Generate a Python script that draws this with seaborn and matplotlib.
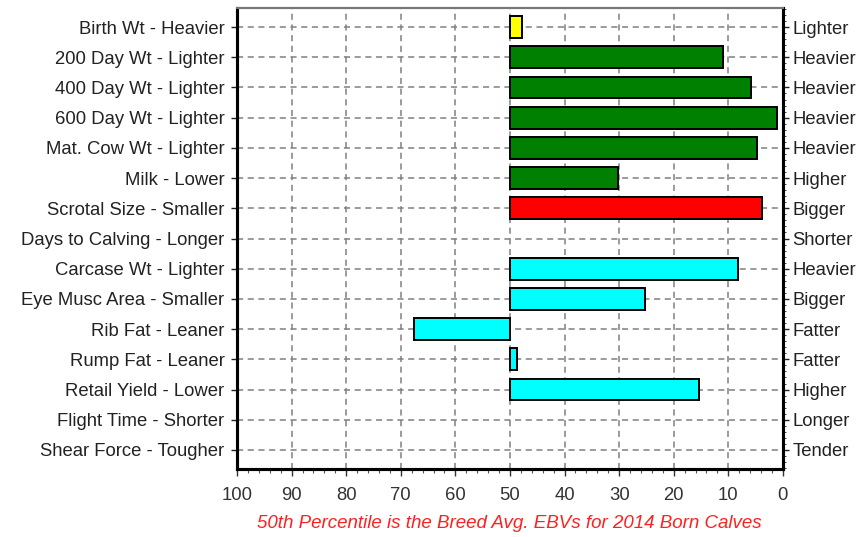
import numpy as np
import pandas as pd
import matplotlib
matplotlib.use("Agg")
import matplotlib.pyplot as plt
import seaborn as sns
from matplotlib.ticker import FixedLocator, MultipleLocator

traits = ["Birth Wt - Heavier", "200 Day Wt - Lighter", "400 Day Wt - Lighter",
          "600 Day Wt - Lighter", "Mat. Cow Wt - Lighter", "Milk - Lower",
          "Scrotal Size - Smaller", "Days to Calving - Longer", "Carcase Wt - Lighter",
          "Eye Musc Area - Smaller", "Rib Fat - Leaner", "Rump Fat - Leaner",
          "Retail Yield - Lower", "Flight Time - Shorter", "Shear Force - Tougher"]
right_labels = ["Lighter", "Heavier", "Heavier", "Heavier", "Heavier", "Higher",
                "Bigger", "Shorter", "Heavier", "Bigger", "Fatter", "Fatter",
                "Higher", "Longer", "Tender"]
# percentile band reached by each trait (50 = breed average, nan = no bar)
percentile = [47.8, 11.0, 5.8, 1.0, 4.7, 30.2, 3.8, np.nan, 8.2, 25.2,
              67.6, 48.7, 15.3, np.nan, np.nan]
bar_colors = ["#FFFF00", "#008000", "#008000", "#008000", "#008000", "#008000",
              "#FF0000", "#FFFFFF", "#00FFFF", "#00FFFF", "#00FFFF", "#00FFFF",
              "#00FFFF", "#FFFFFF", "#FFFFFF"]
x_ticks = [100, 90, 80, 70, 60, 50, 40, 30, 20, 10, 0]
footnote = "50th Percentile is the Breed Avg. EBVs for 2014 Born Calves"

avg = 50
df = pd.DataFrame({"trait": traits, "offset": np.array(percentile) - avg})

sns.set_style("white")
plt.rcParams["font.family"] = ["Liberation Sans", "DejaVu Sans"]

fig = plt.figure(figsize=(8.61, 5.37), dpi=100)
ax = fig.add_axes([0.2753, 0.1266, 0.634, 0.8585])

sns.barplot(data=df, y="trait", x="offset", hue="trait", palette=bar_colors,
            order=traits, hue_order=traits, orient="h", width=0.72, saturation=1,
            edgecolor="black", linewidth=1.4, legend=False, ax=ax, zorder=3)

# x axis: offsets from breed average, labelled as percentiles (100 on left)
ax.set_xlim(avg, -avg)
ax.xaxis.set_major_locator(FixedLocator([t - avg for t in x_ticks]))
ax.set_xticklabels([str(t) for t in x_ticks])
ax.xaxis.set_minor_locator(MultipleLocator(2))
ax.set_ylim(len(traits) - 0.37, -0.63)
ax.set_xlabel("")
ax.set_ylabel("")

ax.grid(True, which="major", color="#808080", linestyle=(0, (4, 3)), linewidth=1.1, zorder=0)
ax.set_axisbelow(True)
ax.tick_params(axis="x", which="major", direction="out", length=5, width=1,
               labelsize=13.3, colors="#333333", pad=8, bottom=True)
ax.tick_params(axis="x", which="minor", direction="out", length=3, width=0.8,
               color="#555555", bottom=True)
ax.tick_params(axis="y", which="major", direction="out", length=4, width=1,
               labelsize=13.3, colors="#222222", left=True, pad=5)

ax2 = ax.twinx()
ax2.set_ylim(ax.get_ylim())
ax2.set_yticks(range(len(traits)))
ax2.set_yticklabels(right_labels)
ax2.yaxis.set_minor_locator(MultipleLocator(0.2))
ax2.tick_params(axis="y", which="major", direction="out", length=4, width=1,
                labelsize=13.3, colors="#222222", right=True, pad=3)
ax2.tick_params(axis="y", which="minor", direction="out", length=2.5, width=0.7,
                color="#444444", right=True)

for a in (ax, ax2):
    for side in ("left", "right", "bottom"):
        a.spines[side].set_color("black")
        a.spines[side].set_linewidth(2.2)
    a.spines["top"].set_color("#777777")
    a.spines["top"].set_linewidth(1.5)

fig.text(0.592, 0.026, footnote, color="#FF2020", fontsize=13.5, style="italic",
         ha="center", va="center")

fig.savefig("out.png", dpi=100)
